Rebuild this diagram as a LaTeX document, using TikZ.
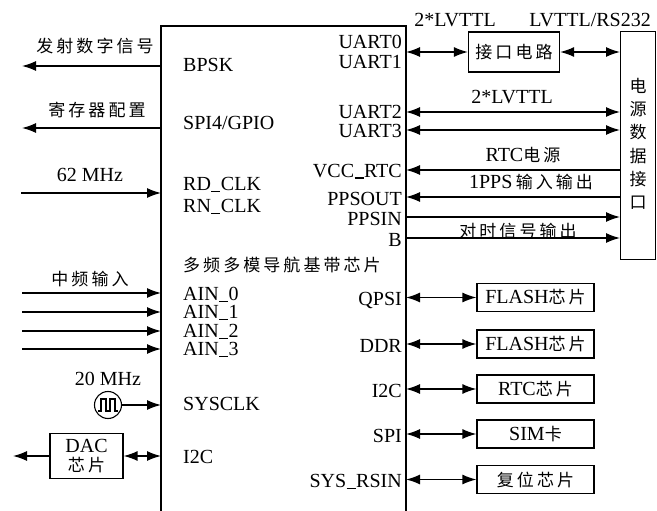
\documentclass[tikz,border=0pt]{standalone}
\usepackage{fontspec}
\setmainfont{Liberation Serif}
\newfontfamily\cjkf[LetterSpace=18]{Noto Sans CJK SC}
\newfontfamily\cjkv{Noto Sans CJK SC}
\newcommand\zhtxt[1]{{\cjkf\fontsize{17}{20}\selectfont #1}}
\newcommand\usc{\kern0.5pt\rule[-1.6pt]{9pt}{1.1pt}\kern0.5pt}
\usetikzlibrary{arrows.meta}
\tikzset{
  every node/.style={inner sep=0pt, font=\fontsize{20}{21}\selectfont},
  arr/.style={line width=1.4pt, -{Latex[length=14pt,width=10pt]}},
  darr/.style={line width=1.4pt, {Latex[length=14pt,width=10pt]}-{Latex[length=14pt,width=10pt]}},
  boxline/.style={line width=1.2pt},
  chipbox/.style={draw, line width=1.2pt, minimum width=117pt, minimum height=28pt},
  lw/.style={anchor=base west},
  le/.style={anchor=base east},
}
\begin{document}
\begin{tikzpicture}[x=1pt,y=-1pt]
\useasboundingbox (0,0) rectangle (657,511);
% main chip outline
\coordinate (chipBL) at (161,511);
\coordinate (chipTL) at (161,26);
\coordinate (chipTR) at (406,26);
\coordinate (chipBR) at (406,511);
\draw[boxline] (chipBL) -- (chipTL) -- (chipTR) -- (chipBR);
\node[anchor=west] (title) at (183,265) {\zhtxt{多频多模导航基带芯片}};

% ---------- left side ----------
\node (t1) at (95,46) {\zhtxt{发射数字信号}};
\coordinate (L1) at (161,66); \coordinate (L1e) at (22,66);
\draw[arr] (L1) -- (L1e);
\node[lw] (bpsk) at (183,72) {BPSK};

\node (t2) at (97,110) {\zhtxt{寄存器配置}};
\coordinate (L2) at (161,128); \coordinate (L2e) at (22,128);
\draw[arr] (L2) -- (L2e);
\node[lw] (spi4) at (183,130) {SPI4/GPIO};

\node[anchor=base] (t3) at (90,182) {62 MHz};
\coordinate (L3s) at (21,193); \coordinate (L3) at (161,193);
\draw[arr] (L3s) -- (L3);
\node[lw] (rdclk) at (183,190) {RD\usc CLK};
\node[lw] (rnclk) at (183,212) {RN\usc CLK};

\node (t4) at (90,279) {\zhtxt{中频输入}};
\foreach \i/\y in {0/293,1/312,2/331,3/349}{
  \coordinate (A\i s) at (22,\y); \coordinate (A\i) at (161,\y);
  \draw[arr] (A\i s) -- (A\i);
}
\node[lw] (ain0) at (183,300) {AIN\usc 0};
\node[lw] (ain1) at (183,318.5) {AIN\usc 1};
\node[lw] (ain2) at (183,337) {AIN\usc 2};
\node[lw] (ain3) at (183,355.5) {AIN\usc 3};

\node[anchor=base] (t5) at (108,385) {20 MHz};
\node[draw, circle, line width=1.1pt, minimum size=27pt] (clk) at (108,405) {};
\draw[line width=1.1pt] ([shift={(-10,6)}]clk.center) -- ++(3,0) -- ++(0,-12) -- ++(5,0) -- ++(0,12) -- ++(4,0) -- ++(0,-12) -- ++(5,0) -- ++(0,12) -- ++(3,0);
\coordinate (L5) at (161,405);
\draw[arr] (clk) -- (L5);
\node[lw] (sysclk) at (183,410) {SYSCLK};

\node[draw, line width=1.2pt, minimum width=73pt, minimum height=45pt, align=center] (dac) at (86.5,456) {DAC\\[-2pt]\zhtxt{芯片}};
\coordinate (L6e) at (13,456); \coordinate (L6) at (161,456);
\draw[arr] (dac) -- (L6e);
\draw[darr] (dac) -- (L6);
\node[lw] (i2cl) at (183,463) {I2C};

% ---------- right side ----------
\node[draw, line width=1.2pt, anchor=north west, minimum width=35pt, minimum height=228pt] (psu) at (620,31) {};
\foreach \c [count=\k] in {电,源,数,据,接,口}{
  \node (pv\k) at (638,{62+23.5*\k}) {\cjkv\fontsize{17}{20}\selectfont \c};
}
\node[draw, line width=1.2pt, minimum width=91pt, minimum height=40pt] (ifc) at (514,52) {\zhtxt{接口电路}};
\node[anchor=base] (lv1) at (455,27) {2*LVTTL};
\node[anchor=base] (lv2) at (590,27) {LVTTL/RS232};
\node[le] (u0) at (402,49) {UART0};
\node[le] (u1) at (402,69) {UART1};
\coordinate (R1) at (406,52);
\draw[darr] (R1) -- (ifc);
\draw[darr] (ifc) -- (ifc.east -| psu.west);

\node[le] (u2) at (402,119) {UART2};
\node[le] (u3) at (402,138) {UART3};
\node[anchor=base] (lv3) at (512,104) {2*LVTTL};
\coordinate (R2) at (406,112); \coordinate (R3) at (406,130);
\draw[darr] (R2) -- (R2 -| psu.west);
\draw[darr] (R3) -- (R3 -| psu.west);

\node (rtcp) at (523,155) {RTC\zhtxt{电源}};
\node[le] (vcc) at (402,177) {VCC\usc RTC};
\coordinate (R4) at (406,170);
\draw[arr] (R4 -| psu.west) -- (R4);

\node (pps) at (531,182) {1PPS\,\zhtxt{输入输出}};
\node[le] (ppsout) at (402,205) {PPSOUT};
\coordinate (R5) at (406,197);
\draw[arr] (R5 -| psu.west) -- (R5);

\node[le] (ppsin) at (402,225) {PPSIN};
\coordinate (R6) at (406,217);
\draw[arr] (R6) -- (R6 -| psu.west);
\node (dsx) at (518,231) {\zhtxt{对时信号输出}};
\node[le] (bb) at (402,246) {B};
\coordinate (R7) at (406,238);
\draw[arr] (R7) -- (R7 -| psu.west);

% bottom right peripherals
\node[chipbox] (fl1) at (535.5,297.5) {FLASH\zhtxt{芯片}};
\node[chipbox] (fl2) at (535.5,344) {FLASH\zhtxt{芯片}};
\node[chipbox] (rtc) at (535.5,389) {RTC\zhtxt{芯片}};
\node[chipbox] (sim) at (535.5,434) {SIM\zhtxt{卡}};
\node[chipbox] (rst) at (535.5,479.5) {\zhtxt{复位芯片}};
\node[le] (qpsi) at (402,305) {QPSI};
\node[le] (ddr) at (402,352) {DDR};
\node[le] (i2cr) at (402,397) {I2C};
\node[le] (spi) at (402,442) {SPI};
\node[le] (sysr) at (402,487) {SYS\usc RSIN};
\foreach \b in {fl1,fl2,rtc,sim,rst}{
  \coordinate (\b p) at (406,0 |- \b.west);
  \draw[darr] (\b p) -- (\b);
}
\end{tikzpicture}
\end{document}
